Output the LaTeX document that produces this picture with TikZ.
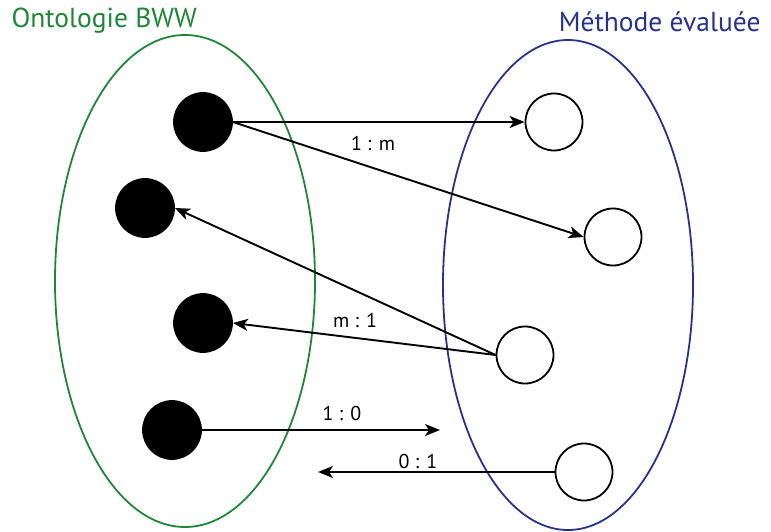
\documentclass[tikz,border=0pt]{standalone}
\usepackage{fontspec}
\setmainfont{PT Sans}
\usetikzlibrary{arrows.meta}
\definecolor{bwwgreen}{RGB}{30,135,55}
\definecolor{methblue}{RGB}{40,50,140}
\begin{document}
\begin{tikzpicture}[x=1pt,y=-1pt,
  full/.style={circle,fill=black,draw=black,line width=1.8pt,minimum size=58pt,inner sep=0pt},
  empty/.style={circle,fill=white,draw=black,line width=1.8pt,minimum size=57pt,inner sep=0pt},
  conn/.style={line width=1.9pt,-{Stealth[length=15pt,width=12pt,inset=4pt]}},
  lab/.style={font=\fontsize{20}{22}\selectfont},
  title/.style={font=\fontsize{27.5}{30}\selectfont}]
\useasboundingbox (0,0) rectangle (771,532);
\draw[bwwgreen,line width=1.8pt] (185,281) ellipse [x radius=130, y radius=246];
\draw[methblue,line width=1.8pt] (568,285) ellipse [x radius=125, y radius=245];
\node[title,text=bwwgreen,anchor=west] (t1) at (8,21) {Ontologie BWW};
\node[title,text=methblue,anchor=east] (t2) at (764,22) {Méthode évaluée};
\node[full] (o1) at (203,122) {};
\node[full] (o2) at (145,208) {};
\node[full] (o3) at (203,323) {};
\node[full] (o4) at (172,430) {};
\node[empty] (m1) at (554,122) {};
\node[empty] (m2) at (613,237) {};
\node[empty] (m3) at (525,355) {};
\node[empty] (m4) at (584,472) {};
\coordinate (e10) at (440,430);
\coordinate (e01) at (318,472);
\draw[conn] (o1.east) -- (m1.west);
\draw[conn] (o1.east) -- (m2.west);
\draw[conn] (m3.west) -- (o2.east);
\draw[conn] (m3.west) -- (o3.east);
\draw[conn] (o4.east) -- (e10);
\draw[conn] (m4.west) -- (e01);
\node[lab] (l1) at (373,143) {1 : m};
\node[lab] (l2) at (355,320) {m : 1};
\node[lab] (l3) at (342,413) {1 : 0};
\node[lab] (l4) at (418,461) {0 : 1};
\end{tikzpicture}
\end{document}
